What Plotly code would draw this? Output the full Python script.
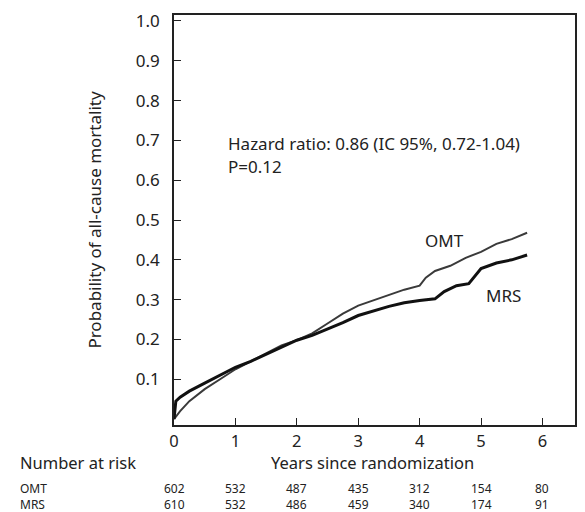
import plotly.graph_objects as go

# Kaplan-Meier cumulative mortality readings
omt_t = [0, 0.1, 0.25, 0.5, 0.75, 1.0, 1.25, 1.5, 1.75, 2.0, 2.25, 2.5, 2.75, 3.0, 3.25, 3.5, 3.75, 4.0, 4.1, 4.25, 4.5, 4.75, 5.0, 5.25, 5.5, 5.75]
omt_p = [0.0, 0.02, 0.045, 0.075, 0.10, 0.125, 0.145, 0.165, 0.185, 0.198, 0.215, 0.24, 0.265, 0.285, 0.298, 0.312, 0.325, 0.335, 0.355, 0.372, 0.385, 0.405, 0.42, 0.44, 0.452, 0.468]

mrs_t = [0, 0.03, 0.1, 0.25, 0.5, 0.75, 1.0, 1.25, 1.5, 1.75, 2.0, 2.25, 2.5, 2.75, 3.0, 3.25, 3.5, 3.75, 4.0, 4.25, 4.4, 4.6, 4.8, 5.0, 5.25, 5.5, 5.75]
mrs_p = [0.0, 0.045, 0.055, 0.07, 0.09, 0.11, 0.13, 0.145, 0.163, 0.18, 0.198, 0.21, 0.225, 0.242, 0.26, 0.272, 0.283, 0.292, 0.298, 0.302, 0.32, 0.335, 0.34, 0.378, 0.392, 0.40, 0.412]

years = [0, 1, 2, 3, 4, 5, 6]
risk_omt = [602, 532, 487, 435, 312, 154, 80]
risk_mrs = [610, 532, 486, 459, 340, 174, 91]
y_ticks = [0.1, 0.2, 0.3, 0.4, 0.5, 0.6, 0.7, 0.8, 0.9, 1.0]

FONT = "Noto Sans"
TXT = "#222222"

fig = go.Figure()
fig.add_trace(go.Scatter(x=omt_t, y=omt_p, mode="lines", name="OMT",
                         line=dict(color="#3a3a3a", width=2)))
fig.add_trace(go.Scatter(x=mrs_t, y=mrs_p, mode="lines", name="MRS",
                         line=dict(color="#111111", width=3)))

W, H = 585, 512
L, R, T, B = 174, 8, 15, 87
pw, ph = W - L - R, H - T - B


def px_x(x):
    return (x - L) / pw


def px_y(y):
    return 1 - (y - T) / ph


ann = []
ann.append(dict(x=0.854, y=0.693, xref="x", yref="y", xanchor="left", yanchor="middle",
                text="Hazard ratio: 0.86 (IC 95%, 0.72-1.04)", showarrow=False,
                font=dict(size=17, color=TXT)))
ann.append(dict(x=0.854, y=0.634, xref="x", yref="y", xanchor="left", yanchor="middle",
                text="P=0.12", showarrow=False, font=dict(size=17, color=TXT)))
ann.append(dict(x=4.40, y=0.448, xref="x", yref="y", text="OMT", showarrow=False,
                xanchor="center", yanchor="middle", font=dict(size=17, color=TXT)))
ann.append(dict(x=5.36, y=0.311, xref="x", yref="y", text="MRS", showarrow=False,
                xanchor="center", yanchor="middle", font=dict(size=17, color=TXT)))
ann.append(dict(x=px_x(17), y=px_y(462), xref="paper", yref="paper", text="Number at risk",
                showarrow=False, xanchor="left", yanchor="middle", font=dict(size=16.5, color=TXT)))
ann.append(dict(x=px_x(373), y=px_y(462.5), xref="paper", yref="paper",
                text="Years since randomization",
                showarrow=False, xanchor="center", yanchor="middle", font=dict(size=16.5, color=TXT)))
ann.append(dict(x=px_x(17), y=px_y(496.5), xref="paper", yref="paper", text="OMT<br>MRS",
                showarrow=False, xanchor="left", yanchor="middle", align="left",
                font=dict(size=12, color=TXT)))

for yr, vo, vm in zip(years, risk_omt, risk_mrs):
    ann.append(dict(x=yr, y=px_y(496.5), xref="x", yref="paper", text=f"{vo}<br>{vm}",
                    xanchor="center", yanchor="middle", align="center",
                    showarrow=False, font=dict(size=12, color=TXT)))

fig.update_layout(
    width=W, height=H,
    margin=dict(l=L, r=R, t=T, b=B),
    paper_bgcolor="white", plot_bgcolor="white",
    showlegend=False,
    font=dict(family=FONT, size=17, color=TXT),
    annotations=ann,
)
fig.update_xaxes(range=[0, 6.53], tickvals=years, ticks="inside", ticklen=7,
                 tickcolor=TXT, showline=True, linecolor=TXT, linewidth=1.5,
                 mirror=True, showgrid=False, zeroline=False,
                 tickfont=dict(size=16.5))
fig.update_yaxes(range=[-0.015, 1.015], tickvals=y_ticks,
                 ticktext=[f"{v:.1f}" for v in y_ticks], ticks="inside", ticklen=7,
                 tickcolor=TXT, showline=True, linecolor=TXT, linewidth=1.5,
                 mirror=True, showgrid=False, zeroline=False, ticklabelstandoff=9,
                 title=dict(text="Probability of all-cause mortality", font=dict(size=17), standoff=30),
                 tickfont=dict(size=17))

fig.write_html("out.html")
